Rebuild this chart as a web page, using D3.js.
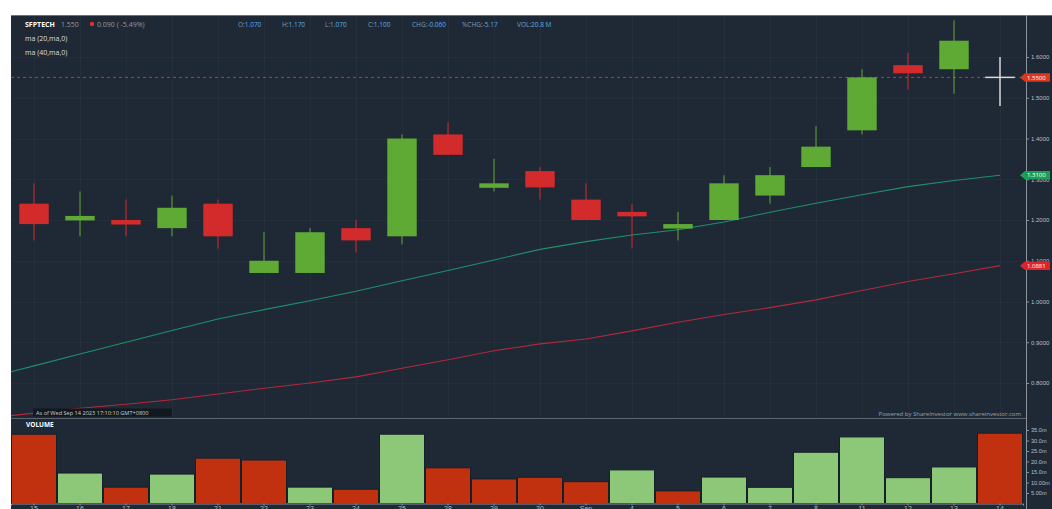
<!DOCTYPE html>
<html><head><meta charset="utf-8">
<script src="https://cdn.jsdelivr.net/npm/d3@7"></script>
<style>
html,body{margin:0;padding:0;background:#fff;}
svg{display:block;font-family:"Open Sans",Roboto,sans-serif;}
</style></head>
<body>
<svg id="c" width="1052" height="509"></svg>
<script>
// ---- data ----
const dates  = ["15","16","17","18","21","22","23","24","25","28","29","30","Sep","4","5","6","7","8","11","12","13","14"];
const opens  = [1.24,1.20,1.20,1.18,1.24,1.07,1.07,1.18,1.16,1.41,1.28,1.32,1.25,1.22,1.18,1.20,1.26,1.33,1.42,1.58,1.57,1.55];
const highs  = [1.29,1.27,1.25,1.26,1.25,1.17,1.18,1.20,1.41,1.44,1.35,1.33,1.29,1.24,1.22,1.31,1.33,1.43,1.57,1.61,1.69,1.60];
const lows   = [1.15,1.16,1.16,1.16,1.13,1.07,1.07,1.12,1.14,1.36,1.27,1.25,1.20,1.13,1.15,1.20,1.24,1.33,1.41,1.52,1.51,1.48];
const closes = [1.19,1.21,1.19,1.23,1.16,1.10,1.17,1.15,1.40,1.36,1.29,1.28,1.20,1.21,1.19,1.29,1.31,1.38,1.55,1.56,1.64,1.55];
const volumes = [33.0,14.5,7.8,14.0,21.6,20.7,7.8,6.8,33.0,17.0,11.7,12.5,10.4,16.0,6.0,12.6,7.7,24.4,31.7,12.3,17.4,33.5];
const volDir  = ["down","up","down","up","down","down","up","down","up","down","down","down","down","up","down","up","up","up","up","up","up","down"];
const ma20 = [0.842,0.871,0.900,0.929,0.957,0.980,1.002,1.025,1.051,1.076,1.102,1.128,1.147,1.163,1.176,1.195,1.219,1.241,1.262,1.282,1.297,1.310];
const ma40 = [0.726,0.738,0.748,0.759,0.773,0.787,0.800,0.815,0.836,0.857,0.879,0.896,0.908,0.928,0.949,0.968,0.985,1.004,1.027,1.049,1.068,1.088];
const priceTicks = [0.8,0.9,1.0,1.1,1.2,1.3,1.4,1.5,1.6];
const volTicks = [5,10,15,20,25,30,35];
const volTickLabels = ["5.00m","10.00m","15.0m","20.0m","25.0m","30.0m","35.0m"];
const lastPrice = 1.55;
const ma20Label = "1.3100";
const ma40Label = "1.0881";
const headerItems = [["O:","1.070"],["H:","1.170"],["L:","1.070"],["C:","1.100"],["CHG:","-0.060"],["%CHG:","-5.17"],["VOL:","20.8 M"]];

// ---- layout ----
const L=11, R=1023, AX=1026, TOP=15, PB=418, VB=503.5;
const svg = d3.select("#c");
const bg="#1e2935";
svg.append("rect").attr("x",L).attr("y",TOP).attr("width",1052-L).attr("height",509-TOP).attr("fill",bg);
svg.append("line").attr("x1",L).attr("x2",1052).attr("y1",TOP+0.5).attr("y2",TOP+0.5).attr("stroke","#6b737c");

const idx = d3.range(dates.length);
const x = d3.scaleBand().domain(idx).range([L,R]).padding(0);
const cx = i => x(i)+x.bandwidth()/2;
const y = d3.scaleLinear().domain([0.8,1.6]).range([383,57]);
const yv = d3.scaleLinear().domain([0,35]).range([VB,430]);

const defs = svg.append("defs");
defs.append("clipPath").attr("id","pc").append("rect").attr("x",L).attr("y",TOP+1).attr("width",AX-L).attr("height",PB-TOP-1);

// grid
const g = svg.append("g").attr("clip-path","url(#pc)");
g.selectAll(".vg").data(idx).enter().append("line")
 .attr("x1",d=>cx(d)+0.5).attr("x2",d=>cx(d)+0.5).attr("y1",TOP).attr("y2",PB)
 .attr("stroke","#ffffff").attr("stroke-opacity",0.03);
g.selectAll(".hg").data(priceTicks).enter().append("line")
 .attr("x1",L).attr("x2",AX).attr("y1",d=>Math.round(y(d))+0.5).attr("y2",d=>Math.round(y(d))+0.5)
 .attr("stroke","#ffffff").attr("stroke-opacity",0.025);

// MA lines (extended one step to the left so they reach the panel edge)
const xl = d3.scaleLinear().domain([0,dates.length-1]).range([cx(0),cx(dates.length-1)]);
const maLine = d3.line().x(d=>xl(d[0])).y(d=>y(d[1]));
g.append("path").attr("d",maLine([[-1,2*ma20[0]-ma20[1]]].concat(ma20.map((v,i)=>[i,v]))))
 .attr("fill","none").attr("stroke","#1f8f6c").attr("stroke-width",1.1);
g.append("path").attr("d",maLine([[-1,2*ma40[0]-ma40[1]]].concat(ma40.map((v,i)=>[i,v]))))
 .attr("fill","none").attr("stroke","#b3283c").attr("stroke-width",1.1);

// last price dashed line
g.append("line").attr("x1",L).attr("x2",AX-6).attr("y1",y(lastPrice)).attr("y2",y(lastPrice))
 .attr("stroke","#c0392b").attr("stroke-width",1).attr("stroke-dasharray","3,3");

// candles
const green="#5fa935", red="#d32b2b", doji="#d8d8d8";
const col = i => closes[i]>opens[i]?green:(closes[i]<opens[i]?red:doji);
const bw = x.bandwidth()*0.64;
const cg = g.append("g");
cg.selectAll(".wick").data(idx).enter().append("line")
 .attr("x1",d=>cx(d)).attr("x2",d=>cx(d)).attr("y1",d=>y(highs[d])).attr("y2",d=>y(lows[d]))
 .attr("stroke",d=>col(d)).attr("stroke-width",d=>opens[d]===closes[d]?1.5:1);
cg.selectAll(".body").data(idx.filter(i=>opens[i]!==closes[i])).enter().append("rect")
 .attr("x",d=>cx(d)-bw/2).attr("width",bw)
 .attr("y",d=>y(Math.max(opens[d],closes[d])))
 .attr("height",d=>Math.max(4.5,Math.abs(y(opens[d])-y(closes[d]))))
 .attr("fill",d=>col(d));
cg.selectAll(".doji").data(idx.filter(i=>opens[i]===closes[i])).enter().append("line")
 .attr("x1",d=>cx(d)-bw/2).attr("x2",d=>cx(d)+bw/2).attr("y1",d=>y(opens[d])).attr("y2",d=>y(opens[d]))
 .attr("stroke",doji).attr("stroke-width",1.5);

// price axis
svg.append("line").attr("x1",AX+0.5).attr("x2",AX+0.5).attr("y1",TOP).attr("y2",509).attr("stroke","#8b939c").attr("stroke-width",1);
const pa = svg.append("g").attr("transform",`translate(${AX},0)`)
 .call(d3.axisRight(y).tickValues(priceTicks).tickSize(3).tickFormat(d3.format(".4f")));
pa.select(".domain").remove();
pa.selectAll("line").attr("stroke","#8b939c");
pa.selectAll("text").attr("fill","#b8bec4").attr("font-size","6px").attr("x",5);

// tags
function tag(v,fill,text){
  const cy=y(v), h=8.5;
  const gt=svg.append("g");
  gt.append("path").attr("d",`M${AX-6},${cy} L${AX-1},${cy-h/2} L1050,${cy-h/2} L1050,${cy+h/2} L${AX-1},${cy+h/2} Z`).attr("fill",fill);
  gt.append("text").attr("x",AX+1).attr("y",cy+2.2).attr("fill","#fff").attr("font-size","6px").text(text);
}
tag(lastPrice,"#d9381e",d3.format(".4f")(lastPrice));
tag(ma20[ma20.length-1],"#1e9e55",ma20Label);
tag(ma40[ma40.length-1],"#e0222c",ma40Label);

// header
const hd = svg.append("g").attr("font-size","7px");
const t1 = hd.append("text").attr("x",25).attr("y",26.5);
t1.append("tspan").attr("fill","#ffffff").attr("font-weight","bold").text("SFPTECH");
t1.append("tspan").attr("fill","#8e9aa6").attr("dx",6).text("1.550");
hd.append("circle").attr("cx",92).attr("cy",24).attr("r",2.2).attr("fill","#e0302a");
hd.append("text").attr("x",97).attr("y",26.5).attr("fill","#8e9aa6").text("0.090 ( -5.49%)");
const hx=[238,282,325,368,412,462,517];
headerItems.forEach((h,i)=>{
  const t=hd.append("text").attr("x",hx[i]).attr("y",26.5).attr("font-size","6.5px");
  t.append("tspan").attr("fill","#7f9bb5").text(h[0]);
  t.append("tspan").attr("fill","#5aaaf0").text(h[1]);
});
hd.append("text").attr("x",25).attr("y",41).attr("fill","#d8dde2").text("ma (20,ma,0)");
hd.append("text").attr("x",25).attr("y",55).attr("fill","#d8dde2").text("ma (40,ma,0)");

// footer texts of price panel
svg.append("rect").attr("x",33).attr("y",408.5).attr("width",139).attr("height",8).attr("fill","#121820");
svg.append("text").attr("x",36).attr("y",414.6).attr("fill","#c9cdd2").attr("font-size","5.6px").text("As of Wed Sep 14 2023 17:10:10 GMT+0800");
svg.append("text").attr("x",1021).attr("y",415.5).attr("text-anchor","end").attr("fill","#9aa2ab").attr("font-size","6px").text("Powered by ShareInvestor www.shareinvestor.com");

// separator
svg.append("line").attr("x1",L).attr("x2",AX).attr("y1",PB+0.5).attr("y2",PB+0.5).attr("stroke","#5d6670");
svg.append("text").attr("x",26).attr("y",426.5).attr("fill","#ffffff").attr("font-weight","bold").attr("font-size","6.5px").text("VOLUME");

// volume bars
svg.append("g").selectAll("rect").data(idx).enter().append("rect")
 .attr("x",d=>x(d)+0.5).attr("width",x.bandwidth()-1)
 .attr("y",d=>yv(volumes[d])).attr("height",d=>yv(0)-yv(volumes[d]))
 .attr("fill",d=>volDir[d]==="up"?"#8dc878":"#c1300f")
 .attr("stroke","#14202a").attr("stroke-width",1);

// volume axis
const va = svg.append("g").attr("transform",`translate(${AX},0)`)
 .call(d3.axisRight(yv).tickValues(volTicks).tickSize(3).tickFormat((d,i)=>volTickLabels[i]));
va.select(".domain").remove();
va.selectAll("line").attr("stroke","#8b939c");
va.selectAll("text").attr("fill","#b8bec4").attr("font-size","5.6px").attr("x",5);

// x axis (mostly cut off at the bottom, as in the reference)
const xa = svg.append("g").attr("transform",`translate(0,${VB})`)
 .call(d3.axisBottom(x).tickSize(2).tickFormat((d,i)=>dates[i]));
xa.select(".domain").attr("stroke","#8b939c");
xa.selectAll("line").attr("stroke","#8b939c");
xa.selectAll("text").attr("fill","#b8bec4").attr("font-size","7px").attr("y",3);
</script>
</body></html>
